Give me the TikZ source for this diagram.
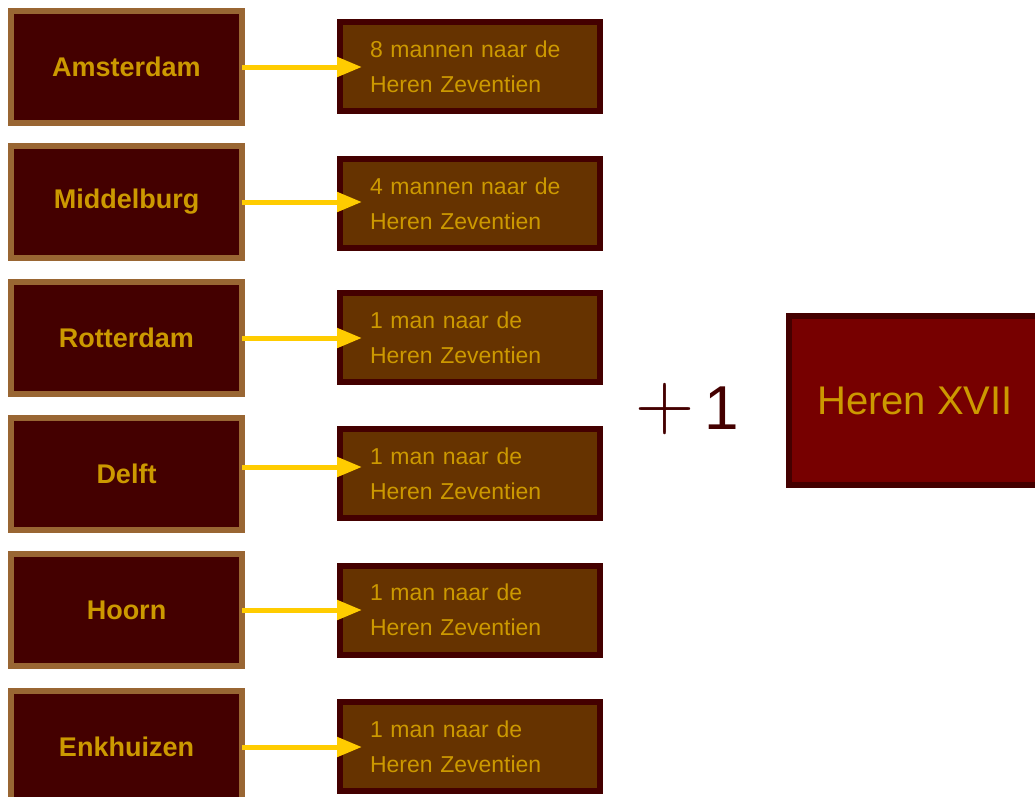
\documentclass[tikz,border=0pt]{standalone}
\usepackage{fontspec}
\setmainfont{Liberation Sans}
\newfontfamily\lmfont{Latin Modern Roman}
\usetikzlibrary{arrows.meta}

\definecolor{kader}{HTML}{996633}
\definecolor{donker}{HTML}{440000}
\definecolor{bruin}{HTML}{663300}
\definecolor{rood}{HTML}{770000}
\definecolor{goud}{HTML}{CC9900}
\definecolor{geel}{HTML}{FFCC00}

\begin{document}
\begin{tikzpicture}[x=1pt,y=-1pt,
    stad/.style={draw=kader, line width=6pt, fill=donker, outer sep=0pt,
      minimum width=231pt, minimum height=112pt, inner sep=0pt, text=goud,
      font=\fontsize{27}{27}\selectfont\bfseries},
    zetel/.style={draw=donker, line width=6pt, fill=bruin,
      minimum width=260pt, minimum height=89pt, inner sep=0pt, text=goud,
      align=left, text width=200pt, font=\fontsize{23}{35}\selectfont},
    pijl/.style={draw=geel, line width=5pt, -{Triangle[length=25pt,width=19pt]}}]

    % vaste afmetingen van het plaatje
    \useasboundingbox (0,0) rectangle (1035,796);

    % de kamers (links)
    \node[stad] (ams) at (126.5,67) {Amsterdam};
    \node[stad] (mid) at (126.5,202) {Middelburg};
    \node[stad] (rot) at (126.5,338) {Rotterdam};
    \node[stad] (del) at (126.5,474) {Delft};
    \node[stad] (hoo) at (126.5,610) {Hoorn};
    \node[stad] (enk) at (126.5,747) {Enkhuizen};

    % afgevaardigden per kamer
    \node[zetel] (amsH) at (470,66.5) {8 mannen naar de\\Heren Zeventien};
    \node[zetel] (midH) at (470,203.5) {4 mannen naar de\\Heren Zeventien};
    \node[zetel] (rotH) at (470,337.5) {1 man naar de\\Heren Zeventien};
    \node[zetel] (delH) at (470,473.5) {1 man naar de\\Heren Zeventien};
    \node[zetel] (hooH) at (470,610) {1 man naar de\\Heren Zeventien};
    \node[zetel] (enkH) at (470,746.5) {1 man naar de\\Heren Zeventien};

    % pijlen (horizontaal)
    \draw[pijl] (ams.east) -- ([xshift=25pt]ams.east -| amsH.west);
    \draw[pijl] (mid.east) -- ([xshift=25pt]mid.east -| midH.west);
    \draw[pijl] (rot.east) -- ([xshift=25pt]rot.east -| rotH.west);
    \draw[pijl] ([yshift=7pt]del.east) -- ([xshift=25pt,yshift=7pt]del.east -| delH.west);
    \draw[pijl] (hoo.east) -- ([xshift=25pt]hoo.east -| hooH.west);
    \draw[pijl] (enk.east) -- ([xshift=25pt]enk.east -| enkH.west);

    % plus een
    \node[text=donker, inner sep=0pt, font=\fontsize{82}{82}\selectfont\lmfont] (plus) at (665.5,409.5) {+};
    \node[text=donker, inner sep=0pt, font=\fontsize{62}{62}\selectfont] (een) at (722,408.5) {1};

    % Heren XVII
    \node[draw=donker, line width=6pt, fill=rood, minimum width=252pt, minimum height=169pt,
      inner sep=0pt, text=goud, font=\fontsize{40}{40}\selectfont] (heren) at (915,400.5) {Heren XVII};

\end{tikzpicture}
\end{document}
